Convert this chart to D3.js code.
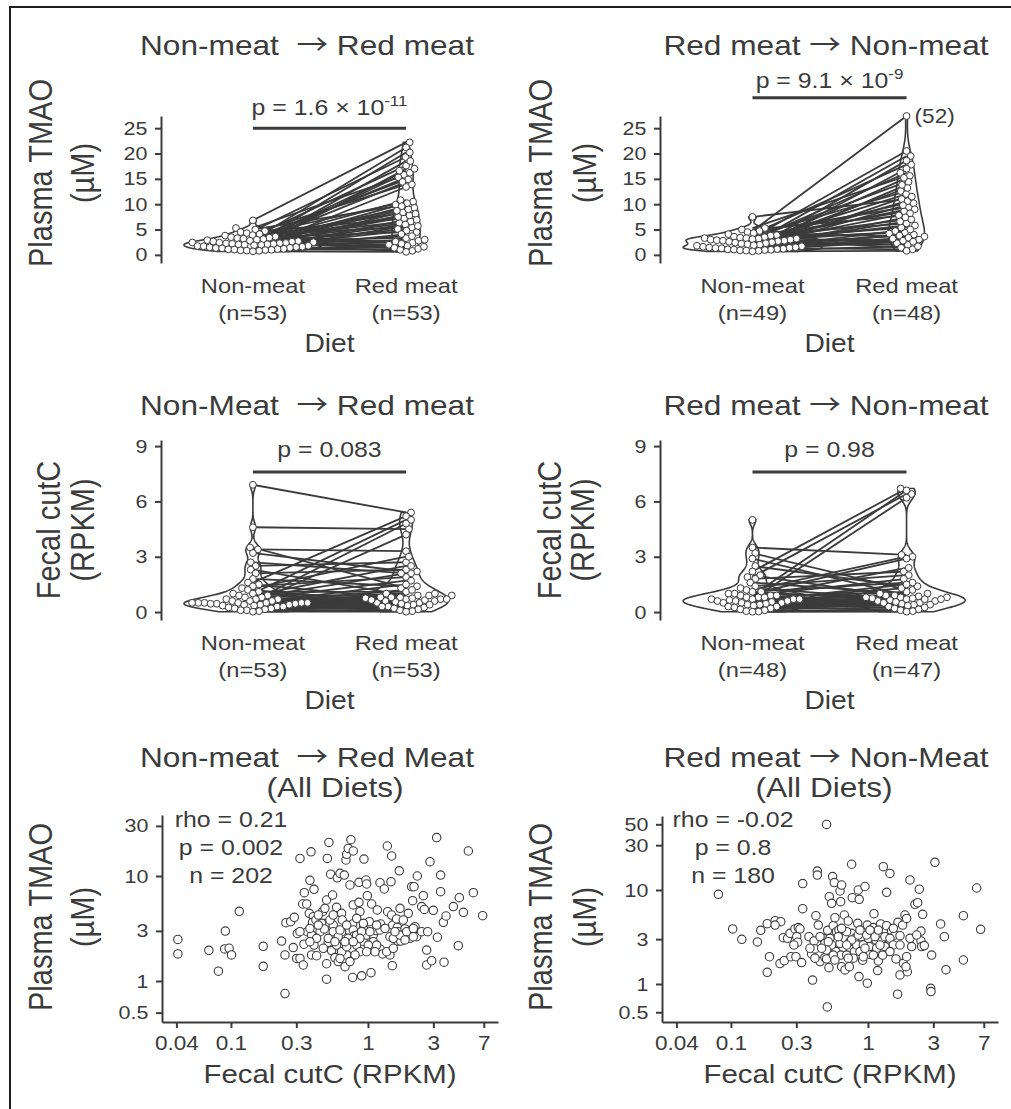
<!DOCTYPE html>
<html>
<head>
<meta charset="utf-8">
<script src="https://cdn.jsdelivr.net/npm/d3@7"></script>
<style>
  body { margin: 0; background: #fff; }
  text { font-family: "Liberation Sans", Arial, sans-serif; fill: #3b3b3b; }
</style>
</head>
<body>
<svg id="fig" width="1011" height="1109"></svg>
<script>
// ---- data ----
const diets = ["Non-meat", "Red meat"];

// plasma TMAO (uM), Non-meat -> Red meat, paired by subject
const tmaoNonMeatA = [6.8,5.3,5.0,4.7,4.5,4.3,4.1,3.9,3.8,3.6,3.5,3.4,3.3,3.2,3.1,3.0,2.9,2.8,2.7,2.65,2.6,2.5,2.45,2.4,2.35,2.3,2.25,2.2,2.15,2.1,2.05,2.0,1.95,1.9,1.8,1.75,1.7,1.6,1.55,1.5,1.4,1.35,1.3,1.2,1.15,1.1,1.05,1.0,0.95,0.9,0.85,0.8,0.7];
const tmaoRedMeatA = [22.2,15.8,9.9,19.3,7.2,13.9,5.4,10.5,2.4,17.6,8.4,4.5,14.9,6.6,1.2,21.2,9.3,3.3,15.3,7.8,10.8,2.0,6.3,16.6,9.0,2.8,14.4,5.1,1.6,20.2,7.5,3.7,10.2,0.8,16.2,6.0,2.6,9.6,18.5,4.8,1.4,8.1,13.4,3.0,8.7,1.0,6.9,17.0,4.1,1.8,5.7,2.2,0.6];

// plasma TMAO (uM), Red meat -> Non-meat
const tmaoNonMeatB = [7.5,5.3,5.0,4.7,4.5,4.3,4.1,3.9,3.8,3.6,3.5,3.4,3.3,3.3,3.2,3.2,3.1,3.0,3.0,2.9,2.8,2.8,2.7,2.6,2.5,2.4,2.3,2.2,2.1,2.0,1.9,1.8,1.7,1.6,1.5,1.45,1.4,1.35,1.3,1.2,1.15,1.1,1.05,1.0,0.95,0.9,0.85,0.8,0.7];
const tmaoRedMeatB = [11.0,15.6,7.8,52,9.4,3.6,17.8,6.2,12.6,2.3,8.6,20.5,4.4,10.2,5.4,14.4,1.4,7.0,null,16.2,3.0,9.0,4.7,12.0,5.8,19.5,2.0,8.2,3.8,13.2,6.6,10.6,4.0,15.2,2.8,7.4,1.1,9.8,5.0,18.6,3.4,11.5,2.6,13.8,4.2,17.0,1.7,3.2,0.8];

// fecal cutC (RPKM), Non-meat -> Red meat
const cutcNonMeatA = [6.9,4.6,3.5,3.4,3.2,2.7,2.5,2.3,2.1,1.8,1.6,1.5,1.4,1.3,1.2,1.1,1.0,1.0,0.9,0.9,0.8,0.8,0.7,0.7,0.7,0.6,0.6,0.6,0.5,0.5,0.5,0.5,0.5,0.5,0.5,0.45,0.45,0.45,0.4,0.4,0.4,0.35,0.35,0.3,0.3,0.25,0.2,0.2,0.15,0.1,0.1,0.05,0.02];
const cutcRedMeatA = [5.4,4.5,1.3,3.3,2.2,2.1,2.7,0.9,2.3,1.4,5.2,0.7,1.9,3.0,0.5,1.1,5.0,0.8,2.5,0.6,1.0,2.1,0.75,0.4,1.7,4.8,0.65,0.3,1.2,0.9,0.55,0.2,4.2,0.8,1.5,0.7,0.35,1.0,0.6,0.1,0.9,0.45,0.75,0.25,0.5,0.8,0.15,0.65,0.4,0.3,0.05,0.7,0.02];

// fecal cutC (RPKM), Red meat -> Non-meat
const cutcNonMeatB = [5.0,3.5,3.2,2.9,2.5,2.2,2.0,1.9,1.8,1.6,1.4,1.3,1.2,1.1,1.1,1.0,1.0,0.9,0.9,0.9,0.8,0.8,0.8,0.7,0.7,0.7,0.7,0.65,0.6,0.6,0.6,0.55,0.5,0.5,0.5,0.45,0.4,0.4,0.35,0.3,0.3,0.25,0.2,0.15,0.1,0.05,0.03,0.02];
const cutcRedMeatB = [null,3.1,1.2,0.9,1.4,6.7,0.8,6.4,2.2,1.0,2.0,0.7,3.0,1.6,0.6,2.9,0.85,1.8,0.5,6.6,1.1,0.75,2.4,0.4,1.3,0.65,6.2,0.9,0.3,1.5,0.7,1.0,0.45,0.8,0.2,0.6,0.75,0.35,0.55,0.8,0.1,0.4,0.7,0.25,0.5,0.15,0.05,0.02];

// all diets, Non-meat -> Red meat arm: cutC vs TMAO
const allCutcA = [0.041,0.041,0.069,0.081,0.091,0.090,0.097,0.101,0.115,0.172,0.172,0.234,0.248,0.248,0.252,0.273,0.290,0.285,0.305,0.302,
0.319,0.319,0.337,0.334,0.357,0.343,0.377,0.384,0.404,0.373,0.399,0.394,0.361,0.388,0.341,0.404,0.388,0.422,0.417,0.447,
0.467,0.485,0.499,0.494,0.505,0.519,0.534,0.552,0.513,0.499,0.499,0.543,0.558,0.574,0.590,0.597,0.607,0.625,0.642,0.650,
0.672,0.661,0.680,0.642,0.574,0.691,0.699,0.718,0.751,0.781,0.739,0.781,0.860,0.874,0.860,0.935,0.967,0.978,0.989,0.773,
0.781,0.790,0.760,0.773,0.699,0.827,0.874,0.899,0.925,0.935,0.978,1.023,1.046,1.052,1.064,1.094,1.144,1.170,1.224,1.237,
1.224,1.280,1.316,1.384,1.488,1.472,1.392,1.447,1.505,1.514,1.488,1.619,1.637,1.665,1.646,1.713,1.693,1.731,1.863,1.970,
2.026,2.083,2.167,2.118,2.203,2.266,2.291,2.465,2.534,2.465,2.577,2.681,2.681,2.726,2.835,2.916,2.999,3.17,3.21,3.39,
3.39,3.55,3.71,3.59,4.20,4.64,4.56,4.97,5.40,5.87,6.87,
0.459,0.480,0.528,0.558,0.607,0.625,0.699,0.718,0.827,0.899,1.034,1.094,1.157,1.224,1.331,1.447,1.531,1.713,1.915,2.142,
0.422,0.472,0.590,0.642,0.699,0.804,1.006,1.125,1.369,0.377,0.319,0.558,0.513,0.434,0.827,0.925,1.157,1.863,1.574,0.680,
0.874,0.434,0.978,0.625,0.739,0.574,0.377,1.811,2.142,1.531,0.781];
const allTmaoA = [2.49,1.81,1.96,1.24,2.99,2.02,2.05,1.77,4.61,2.14,1.38,2.40,1.77,0.76,3.59,3.67,4.04,2.08,2.84,1.64,
14.7,1.64,1.42,5.41,5.41,6.94,9.09,17.0,7.46,4.41,4.10,3.62,2.95,2.74,2.24,2.20,1.77,1.74,3.81,2.95,
4.57,4.92,5.91,3.54,14.7,20.9,10.4,6.59,2.34,1.46,1.04,1.95,3.41,1.67,5.03,9.6,1.53,10.6,4.41,3.81,
10.2,2.64,1.37,2.95,2.74,14.2,16.1,18.3,22.2,17.3,8.21,5.30,5.61,4.57,8.70,14.5,9.16,8.39,6.50,3.49,
3.06,2.68,2.05,1.08,1.77,2.20,1.90,1.12,3.17,2.37,2.74,3.67,2.02,1.20,5.41,2.74,3.02,4.75,8.64,3.49,
2.02,1.81,7.52,19.3,15.5,8.83,4.57,1.77,1.40,3.41,4.25,3.90,3.24,2.95,2.40,4.92,11.2,2.40,3.13,4.41,
2.55,7.91,7.91,5.82,3.29,2.64,10.0,5.11,6.50,2.95,4.81,1.97,1.42,2.95,13.7,1.56,4.71,23.2,2.61,10.2,
7.09,3.62,4.16,1.51,5.11,6.22,2.17,4.51,17.3,6.94,4.19,
3.54,3.13,3.81,2.95,2.64,3.06,3.41,2.55,2.74,2.95,2.95,2.37,2.20,3.06,3.17,2.64,2.55,2.74,2.95,3.17,
2.55,2.05,2.20,1.90,2.12,1.77,2.20,1.90,1.90,3.17,2.95,4.25,2.55,4.25,3.95,3.54,3.41,2.46,2.95,2.37,
2.55,3.41,1.90,1.64,1.53,2.37,2.37,3.81,2.64,2.05,2.37];

// all diets, Red meat -> Non-meat arm
const allCutcB = [0.499,0.081,0.103,0.120,0.156,0.165,0.184,0.210,0.231,0.210,0.191,0.184,0.228,0.245,0.241,0.259,0.270,0.293,0.310,0.319,
0.302,0.307,0.288,0.274,0.298,0.328,0.334,0.334,0.371,0.388,0.394,0.404,0.410,0.417,0.427,0.427,0.434,0.447,0.472,0.485,
0.508,0.519,0.505,0.499,0.522,0.543,0.552,0.568,0.558,0.574,0.590,0.590,0.584,0.614,0.625,0.632,0.642,0.635,0.642,0.653,
0.680,0.672,0.718,0.731,0.739,0.760,0.768,0.760,0.795,0.841,0.850,0.864,0.860,0.874,0.914,0.935,0.951,0.967,0.989,0.989,
1.034,1.023,1.106,1.094,1.144,1.176,1.190,1.224,1.237,1.258,1.280,1.294,1.369,1.407,1.369,1.447,1.488,1.574,1.601,1.656,
1.713,1.646,1.713,1.791,1.811,1.863,1.915,1.915,1.937,1.894,2.026,2.083,2.203,2.305,2.370,2.506,2.437,2.437,2.465,2.577,
2.868,2.884,2.916,3.08,3.39,3.61,3.71,4.97,4.97,6.21,6.64,
0.447,0.485,0.528,0.543,0.625,0.680,0.699,0.739,0.804,0.827,0.899,0.925,1.006,1.064,1.125,1.157,1.331,1.447,1.531,0.499,
0.558,0.699,0.781,0.874,1.094,1.190,0.978,0.513,0.607,0.760,0.850,0.951,1.331,1.531,1.713,0.642,0.459,0.574,0.718,0.874,
1.034,1.224,1.447,0.377,0.410,0.699,0.925,2.026,2.266];
const allTmaoB = [49.9,8.99,3.85,2.99,2.80,3.72,4.38,4.72,4.60,4.24,1.95,1.33,1.65,1.77,3.11,3.06,3.46,3.85,3.98,3.85,
3.19,2.78,2.60,1.95,1.95,1.69,11.7,6.33,3.19,2.09,1.10,2.87,2.36,5.33,15.9,14.4,4.24,1.73,3.06,1.91,
3.72,1.49,0.57,1.85,8.49,7.21,13.9,12.0,4.17,5.08,3.60,2.94,2.21,3.75,9.76,7.51,11.3,2.03,1.53,2.82,
1.41,5.42,4.68,1.53,2.40,18.8,8.29,3.46,2.21,4.42,10.0,7.96,1.20,2.99,1.79,3.66,10.9,2.94,1.02,4.24,
2.07,2.50,5.60,3.98,2.94,1.39,1.76,3.24,4.35,2.87,2.03,17.7,9.45,2.64,4.17,15.0,3.66,3.32,1.85,4.53,
3.27,0.78,1.25,4.24,1.66,5.42,4.99,1.95,1.35,1.53,12.8,2.50,7.04,7.33,10.2,5.51,3.66,2.87,2.50,2.56,
0.90,0.83,2.03,19.7,4.35,3.19,1.42,5.33,1.80,10.5,3.82,
3.19,2.71,3.06,2.60,2.71,3.06,3.60,2.82,3.06,2.60,3.19,2.60,3.06,3.60,3.19,2.40,3.19,3.06,2.60,2.30,
2.03,2.03,1.88,2.21,2.03,3.75,3.32,2.82,3.19,2.94,3.32,2.40,2.50,3.91,2.60,3.91,2.40,1.80,1.88,3.75,
3.75,2.60,2.21,2.40,1.88,2.60,1.95,3.06,3.32];

const tmaoTicks = [0, 5, 10, 15, 20, 25];
const cutcTicks = [0, 3, 6, 9];
const logCutcTicks = [0.04, 0.1, 0.3, 1, 3, 7];
const logTmaoTicksA = [0.5, 1, 3, 10, 30];
const logTmaoTicksB = [0.5, 1, 3, 10, 30, 50];

// ---- drawing ----
const SX = 1.13;          // the figure's type is set a little wide
const ink = "#3b3b3b";
const svg = d3.select("#fig");

svg.append("rect").attr("x", 10).attr("y", 7).attr("width", 1200).attr("height", 1300)
   .attr("fill", "none").attr("stroke", "#1e1e1e").attr("stroke-width", 2);

function label(x, y, str, size, anchor, rot) {
  return svg.append("text")
    .attr("transform", `translate(${x},${y}) scale(${SX},1)` + (rot ? ` rotate(${rot})` : ""))
    .attr("text-anchor", anchor || "middle")
    .attr("font-size", size)
    .style("white-space", "pre")
    .text(str);
}

// title with a thin math-style arrow between the two diets
function arrowTitle(x, y, from, to, wideGap) {
  const t = label(x, y, "", 28);
  t.append("tspan").text(from + (wideGap ? "  " : " "));
  t.append("tspan").attr("font-family", '"Noto Sans CJK SC", "DejaVu Sans", sans-serif')
   .attr("font-size", 28).text("\u2192");
  t.append("tspan").text(" " + to);
  return t;
}

function pText(x, y, base, sup) {
  const t = label(x, y, "", 22);
  t.append("tspan").text(base);
  if (sup) t.append("tspan").attr("font-size", 15).attr("dy", -9).text(sup);
}

function styleAxis(g, size) {
  g.select(".domain").attr("stroke", ink).attr("stroke-width", 2);
  g.selectAll(".tick line").attr("stroke", ink).attr("stroke-width", 2);
  g.selectAll(".tick text").attr("fill", ink).attr("font-size", size)
   .attr("font-family", '"Liberation Sans", Arial, sans-serif')
   .attr("transform", `scale(${SX},1)`);
}

function kde(v) {
  const s = v.slice().sort(d3.ascending);
  const sd = d3.deviation(s);
  const iqr = d3.quantile(s, 0.75) - d3.quantile(s, 0.25);
  let lo = Math.min(sd, iqr / 1.34);
  if (!(lo > 0)) lo = sd;
  const bw = 0.9 * lo * Math.pow(s.length, -0.2);
  const a = s[0], b = s[s.length - 1];
  return d3.range(257).map(i => {
    const y = a + (b - a) * i / 256;
    return [y, d3.mean(s, x => Math.exp(-0.5 * ((y - x) / bw) ** 2)) / (bw * Math.sqrt(2 * Math.PI))];
  });
}

function swarm(ys, d) {
  const order = d3.range(ys.length).sort((a, b) => ys[b] - ys[a]);
  const placed = [], off = new Array(ys.length);
  order.forEach(i => {
    const py = ys[i];
    const near = placed.filter(q => Math.abs(q.y - py) < d);
    const cands = [0];
    near.forEach(q => {
      const dx = Math.sqrt(d * d - (q.y - py) ** 2);
      cands.push(q.x + dx, q.x - dx);
    });
    cands.sort((a, b) => Math.abs(a) - Math.abs(b));
    const cx = cands.find(c => near.every(q => (q.x - c) ** 2 + (q.y - py) ** 2 >= d * d - 1e-6));
    off[i] = cx;
    placed.push({x: cx, y: py});
  });
  return off;
}

function pairedPanel(p) {
  const x = d3.scalePoint().domain(diets).range(p.xRange).padding(0.6);
  const y = d3.scaleLinear().domain(p.yDomain).range(p.yRange);
  const cap = v => Math.min(v, p.yDomain[1]);
  const groups = [p.nonMeat, p.redMeat].map(g => g.filter(v => v != null).map(cap));

  // violins, area-scaled within the panel
  const dens = groups.map(kde);
  const maxD = d3.max(dens, d => d3.max(d, e => e[1]));
  const half = x.step() * 0.45;
  dens.forEach((d, i) => {
    const cx = x(diets[i]);
    const area = d3.area().y(e => y(e[0]))
      .x0(e => cx - half * e[1] / maxD).x1(e => cx + half * e[1] / maxD);
    svg.append("path").attr("d", area(d)).attr("fill", "none")
       .attr("stroke", ink).attr("stroke-width", 1.6);
  });

  // paired lines
  const pairs = p.nonMeat.map((v, i) => [v, p.redMeat[i]]).filter(d => d[0] != null && d[1] != null);
  svg.append("g").selectAll("line").data(pairs).join("line")
    .attr("x1", x(diets[0])).attr("x2", x(diets[1]))
    .attr("y1", d => y(cap(d[0]))).attr("y2", d => y(cap(d[1])))
    .attr("stroke", ink).attr("stroke-width", 1.8);

  // beeswarm points
  groups.forEach((vals, gi) => {
    const cx = x(diets[gi]);
    const offs = swarm(vals.map(y), 6.2);
    svg.append("g").selectAll("circle").data(vals).join("circle")
      .attr("cx", (d, i) => cx + offs[i]).attr("cy", d => y(d)).attr("r", 3.4)
      .attr("fill", "#fff").attr("stroke", ink).attr("stroke-width", 1);
  });

  // clipped value note
  p.redMeat.forEach(v => {
    if (v != null && v > p.yDomain[1]) label(x(diets[1]) + 8, y(cap(v)) + 7, `(${v})`, 20, "start");
  });

  // y axis
  const ax = svg.append("g").attr("transform", `translate(${p.xRange[0]},0)`)
    .call(d3.axisLeft(y).tickValues(p.ticks).tickSize(6).tickPadding(6).tickSizeOuter(0));
  styleAxis(ax, 19);

  // category labels with counts
  groups.forEach((vals, gi) => {
    label(x(diets[gi]), p.catY, diets[gi], 21);
    label(x(diets[gi]), p.catY + 27, `(n=${vals.length})`, 21);
  });
  const mid = (x(diets[0]) + x(diets[1])) / 2;
  label(mid, p.catY + 59, "Diet", 25);

  // significance bar
  svg.append("line").attr("x1", x(diets[0])).attr("x2", x(diets[1]))
    .attr("y1", y(p.barAt)).attr("y2", y(p.barAt))
    .attr("stroke", ink).attr("stroke-width", 3);
  pText(mid, p.pY, p.pBase, p.pSup);

  // titles
  arrowTitle(p.titleX, p.titleY, p.from, p.to, p.wideGap);
  label(p.yLab1X, p.yLabY, p.yLab1, 29, "middle", -90);
  label(p.yLab2X, p.yLabY, p.yLab2, 29, "middle", -90);
}

function scatterPanel(p) {
  const x = d3.scaleLog().domain(p.xDomain).range(p.xRange);
  const y = d3.scaleLog().domain(p.yDomain).range(p.yRange);
  const fmt = d3.format("~g");

  const ax = svg.append("g").attr("transform", `translate(0,${p.yRange[0]})`)
    .call(d3.axisBottom(x).tickValues(logCutcTicks).tickFormat(fmt).tickSize(6).tickPadding(8).tickSizeOuter(0));
  styleAxis(ax, 20);
  const ay = svg.append("g").attr("transform", `translate(${p.xRange[0]},0)`)
    .call(d3.axisLeft(y).tickValues(p.yTicks).tickFormat(fmt).tickSize(6).tickPadding(6).tickSizeOuter(0));
  styleAxis(ay, 19);

  svg.append("g").selectAll("circle").data(p.cutc).join("circle")
    .attr("cx", d => x(d)).attr("cy", (d, i) => y(p.tmao[i])).attr("r", 4.2)
    .attr("fill", "#fff").attr("stroke", ink).attr("stroke-width", 1.1);

  p.stats.forEach((s, i) => label(p.statX, p.statY + i * 28, s, 22));
  arrowTitle(p.titleX, p.titleY, p.from, p.to, p.wideGap);
  label(p.title2X, p.titleY + 30, "(All Diets)", 28);
  label(p.yLab1X, p.yLabY, "Plasma TMAO", 29, "middle", -90);
  label(p.yLab2X, p.yLabY, "(\u00b5M)", 29, "middle", -90);
  label((p.xRange[0] + p.xRange[1]) / 2, p.xLabY, "Fecal cutC (RPKM)", 26);
}

pairedPanel({
  nonMeat: tmaoNonMeatA, redMeat: tmaoRedMeatA,
  xRange: [161, 498], yRange: [263, 116], yDomain: [-1.6, 27.4], ticks: tmaoTicks,
  catY: 293, barAt: 25, pY: 115, pBase: "p = 1.6 \u00d7 10", pSup: "-11",
  from: "Non-meat", to: "Red meat", wideGap: true, titleX: 307, titleY: 55,
  yLab1: "Plasma TMAO", yLab2: "(\u00b5M)", yLab1X: 52, yLab2X: 94, yLabY: 173
});
pairedPanel({
  nonMeat: tmaoNonMeatB, redMeat: tmaoRedMeatB,
  xRange: [660, 999], yRange: [263, 116], yDomain: [-1.6, 27.4], ticks: tmaoTicks,
  catY: 293, barAt: 31, pY: 88, pBase: "p = 9.1 \u00d7 10", pSup: "-9",
  from: "Red meat", to: "Non-meat", wideGap: false, titleX: 826, titleY: 55,
  yLab1: "Plasma TMAO", yLab2: "(\u00b5M)", yLab1X: 552, yLab2X: 596, yLabY: 173
});
pairedPanel({
  nonMeat: cutcNonMeatA, redMeat: cutcRedMeatA,
  xRange: [161, 498], yRange: [620, 440], yDomain: [-0.43, 9.33], ticks: cutcTicks,
  catY: 650, barAt: 7.6, pY: 457, pBase: "p = 0.083",
  from: "Non-Meat", to: "Red meat", wideGap: true, titleX: 307, titleY: 415,
  yLab1: "Fecal cutC", yLab2: "(RPKM)", yLab1X: 60, yLab2X: 94, yLabY: 530
});
pairedPanel({
  nonMeat: cutcNonMeatB, redMeat: cutcRedMeatB,
  xRange: [660, 999], yRange: [620, 440], yDomain: [-0.43, 9.33], ticks: cutcTicks,
  catY: 650, barAt: 7.6, pY: 457, pBase: "p = 0.98",
  from: "Red meat", to: "Non-meat", wideGap: false, titleX: 826, titleY: 415,
  yLab1: "Fecal cutC", yLab2: "(RPKM)", yLab1X: 561, yLab2X: 594, yLabY: 530
});
scatterPanel({
  cutc: allCutcA, tmao: allTmaoA,
  xRange: [162, 498], yRange: [1022, 815], xDomain: [0.0314, 8.89], yDomain: [0.407, 38.1],
  yTicks: logTmaoTicksA,
  stats: ["rho = 0.21", "p = 0.002", `n = ${allCutcA.length}`], statX: 231, statY: 827,
  from: "Non-meat", to: "Red Meat", wideGap: true, titleX: 307, title2X: 335, titleY: 767,
  yLab1X: 52, yLab2X: 94, yLabY: 917, xLabY: 1083
});
scatterPanel({
  cutc: allCutcB, tmao: allTmaoB,
  xRange: [662, 998], yRange: [1022, 816], xDomain: [0.0314, 8.89], yDomain: [0.394, 61.3],
  yTicks: logTmaoTicksB,
  stats: ["rho = -0.02", "p = 0.8", `n = ${allCutcB.length}`], statX: 733, statY: 827,
  from: "Red meat", to: "Non-Meat", wideGap: false, titleX: 826, title2X: 824, titleY: 767,
  yLab1X: 552, yLab2X: 596, yLabY: 917, xLabY: 1083
});
</script>
</body>
</html>
